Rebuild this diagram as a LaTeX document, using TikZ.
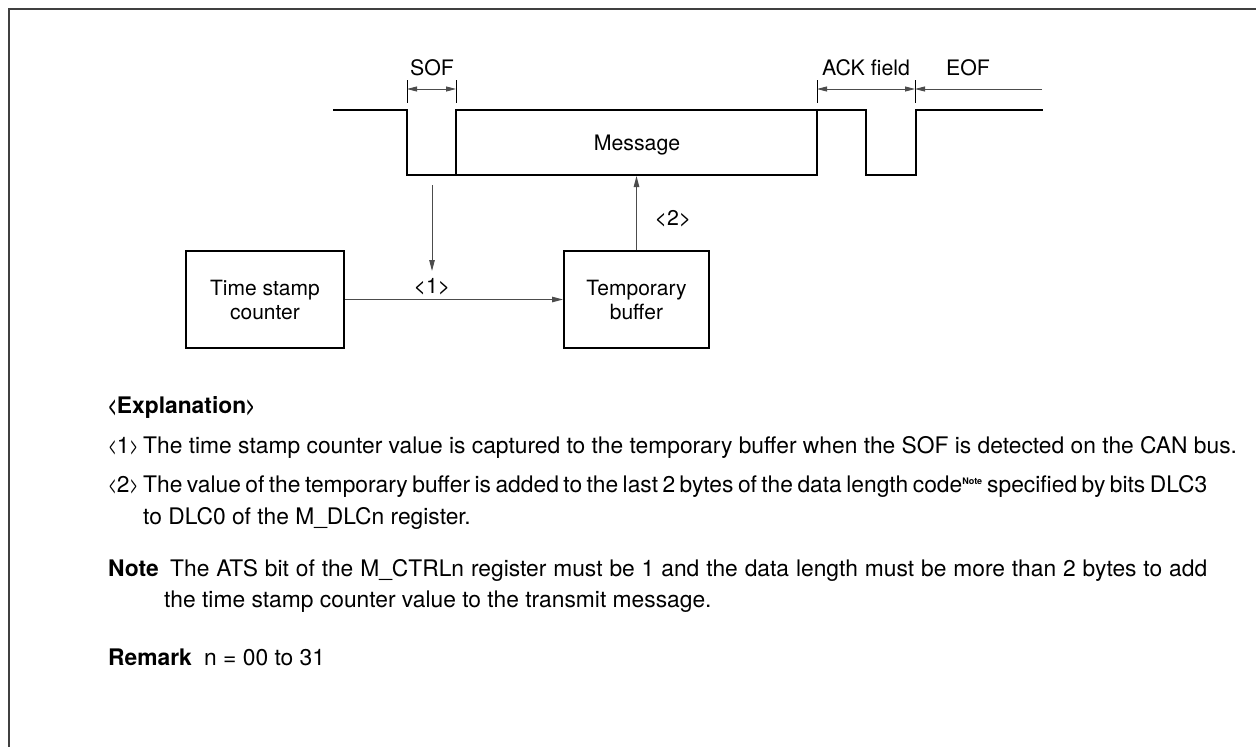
\documentclass[tikz,border=0pt]{standalone}
\usepackage{fontspec}
\usepackage{graphicx}
\setmainfont{TeX Gyre Heros}
\usetikzlibrary{arrows.meta}
\newcommand{\nlt}{\scalebox{0.66}[1]{<}}
\newcommand{\ngt}{\scalebox{0.66}[1]{>}}
\begin{document}
\begin{tikzpicture}[x=1pt,y=-1pt,
  frameline/.style={draw=black!75,line width=1.6pt},
  signal/.style={draw=black,line width=2pt,line join=miter},
  blockbox/.style={draw=black,line width=2pt,minimum width=158pt,minimum height=97pt,align=center,font=\fontsize{21}{24}\selectfont,inner sep=0pt},
  conn/.style={draw=black!70,line width=1pt,-{Triangle[length=11pt,width=5.5pt]}},
  dimline/.style={draw=black!70,line width=0.9pt},
  tick/.style={draw=black,line width=1pt},
  lbl/.style={font=\fontsize{21.3}{24}\selectfont,inner sep=0pt},
  txt/.style={font=\fontsize{22.8}{26}\selectfont,inner sep=0pt,anchor=base west},
  bold/.style={font=\fontsize{22.8}{26}\selectfont\bfseries,inner sep=0pt,anchor=base west}]
\useasboundingbox (0,0) rectangle (1256,747);
% frame
\draw[frameline] (9,747) -- (9,9) -- (1256,9);
% signal
\draw[signal] (333,110) -- (407,110) -- (407,175) -- (817,175) -- (817,110);
\draw[signal] (456,175) -- (456,110) -- (866,110) -- (866,175) -- (916,175) -- (916,110) -- (1043,110);
\node[lbl] (msg) at (637,145) {Message};
% dimension marks
\coordinate (s1) at (407,80); \coordinate (s1b) at (407,103);
\coordinate (s2) at (456,80); \coordinate (s2b) at (456,103);
\coordinate (a1) at (817,80); \coordinate (a1b) at (817,103);
\coordinate (a2) at (915,80); \coordinate (a2b) at (915,103);
\draw[tick] (s1) -- (s1b); \draw[tick] (s2) -- (s2b);
\draw[tick] (a1) -- (a1b); \draw[tick] (a2) -- (a2b);
\coordinate (sd1) at (407,89); \coordinate (sd2) at (456,89);
\coordinate (ad1) at (817,89); \coordinate (ad2) at (915,89);
\coordinate (ed) at (1042,89);
\draw[dimline,{Triangle[length=10pt,width=5pt]}-{Triangle[length=10pt,width=5pt]}] (sd1) -- (sd2);
\draw[dimline,{Triangle[length=10pt,width=5pt]}-{Triangle[length=10pt,width=5pt]}] (ad1) -- (ad2);
\draw[dimline,-{Triangle[length=10pt,width=5pt]}] (ed) -- (ad2);
\node[lbl] (sof) at (432,68) {SOF};
\node[lbl] (ack) at (866,68) {ACK field};
\node[lbl] (eof) at (968,68) {EOF};
% blocks
\node[blockbox] (tsc) at (265,299.5) {Time stamp\\counter};
\node[blockbox,minimum width=145pt] (tbuf) at (636.5,299.5) {Temporary\\buffer};
\coordinate (sofsrc) at (432,185);
\coordinate (sofdst) at (432,271);
\coordinate (msgbot) at (636.5,176);
\draw[conn] (sofsrc) -- (sofdst);
\draw[conn] (tsc.east) -- (tbuf.west);
\draw[conn] (tbuf.north) -- (msgbot);
\node[lbl] (l1) at (432,287) {<1>};
\node[lbl] (l2) at (673,219) {<2>};
% explanation text
\node[bold] (expl) at (108,413) {\nlt Explanation\ngt};
\node[txt] (n1) at (108,453) {\nlt 1\ngt};
\node[txt] (t1) at (143,453) {The time stamp counter value is captured to the temporary buffer when the SOF is detected on the CAN bus.};
\node[txt] (n2) at (108,492) {\nlt 2\ngt};
\node[txt] (t2) at (143,492) {\makebox[1064pt][s]{The value of the temporary buffer is added to the last 2 bytes of the data length code\textsuperscript{\fontsize{9}{9}\selectfont\bfseries Note} specified by bits DLC3}};
\node[txt] (t2b) at (143,524) {to DLC0 of the M\_DLCn register.};
\node[bold] (note) at (108,576) {Note};
\node[txt] (t3) at (170,576) {\makebox[1037pt][s]{The ATS bit of the M\_CTRLn register must be 1 and the data length must be more than 2 bytes to add}};
\node[txt] (t3b) at (164,607) {the time stamp counter value to the transmit message.};
\node[bold] (rem) at (108,665) {Remark};
\node[txt] (t4) at (204,665) {n = 00 to 31};
\end{tikzpicture}
\end{document}
